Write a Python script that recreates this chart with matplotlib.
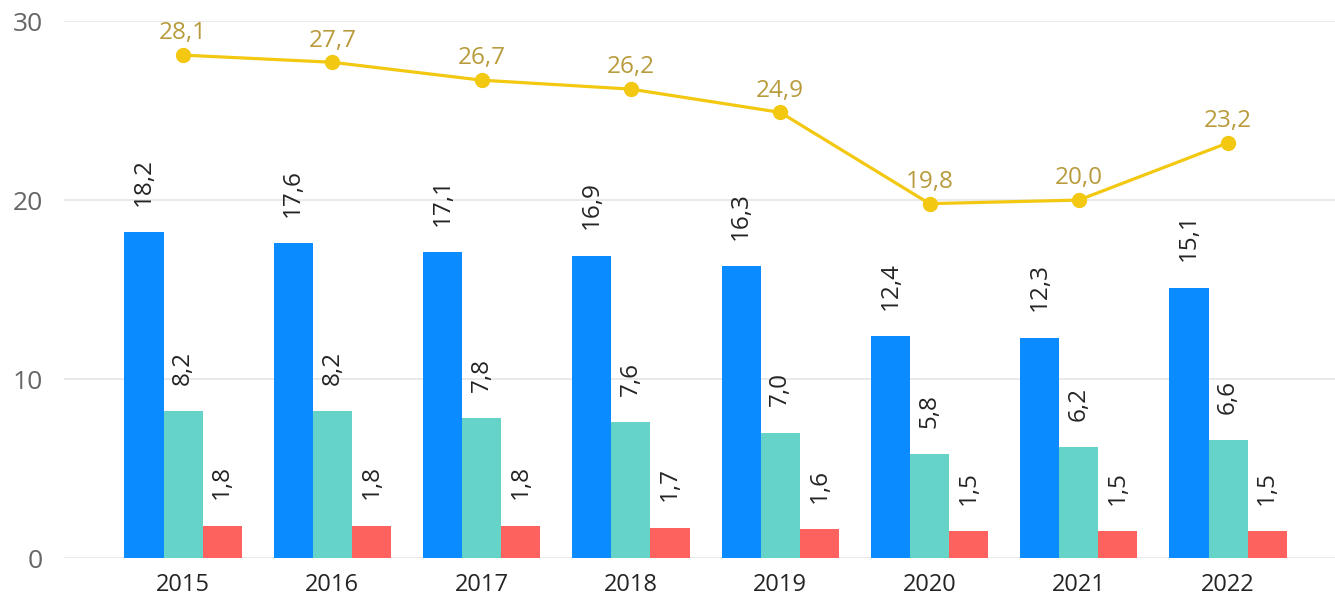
import matplotlib.pyplot as plt
import numpy as np

plt.rcParams['font.family'] = ['Open Sans', 'DejaVu Sans']

years = ["2015", "2016", "2017", "2018", "2019", "2020", "2021", "2022"]
blue_vals = [18.2, 17.6, 17.1, 16.9, 16.3, 12.4, 12.3, 15.1]
teal_vals = [8.2, 8.2, 7.8, 7.6, 7.0, 5.8, 6.2, 6.6]
red_vals = [1.8, 1.8, 1.8, 1.7, 1.6, 1.5, 1.5, 1.5]
line_vals = [28.1, 27.7, 26.7, 26.2, 24.9, 19.8, 20.0, 23.2]


def fmt(v):
    return ("%.1f" % v).replace(".", ",")


fig = plt.figure(figsize=(13.35, 6.03), dpi=100)
ax = fig.add_axes([0.048, 0.0746, 0.952, 0.8904])

x = np.arange(len(years))
w = 0.262
series = [(blue_vals, "#0A8BFF", -w), (teal_vals, "#66D3C8", 0), (red_vals, "#FD625E", w)]
for vals, col, off in series:
    bars = ax.bar(x + off, vals, width=w, color=col, zorder=2)
    for b, v in zip(bars, vals):
        ax.annotate(fmt(v), (b.get_x() + b.get_width() / 2, v),
                    xytext=(0, 19), textcoords="offset points",
                    rotation=90, ha="center", va="bottom",
                    fontsize=17.5, color="#252423")

ax.plot(x, line_vals, color="#F2C811", lw=2.3, marker="o", markersize=10,
        zorder=3, clip_on=False)
for xi, v in zip(x, line_vals):
    ax.annotate(fmt(v), (xi, v), xytext=(0, 7), textcoords="offset points",
                ha="center", va="bottom", fontsize=17.5, color="#B89B3C")

ax.set_ylim(0, 30)
ax.set_xlim(-0.797, 7.716)
ax.set_yticks([0, 10, 20, 30])
ax.set_xticks(x)
ax.set_xticklabels(years)
ax.grid(axis="y", color="#E6E6E6", lw=1.2, zorder=0)
ax.set_axisbelow(True)
for s in ax.spines.values():
    s.set_visible(False)
ax.tick_params(axis="both", length=0, colors="#666666")
ax.tick_params(axis="y", pad=15, labelsize=19)
ax.tick_params(axis="x", pad=11, labelsize=17, labelcolor="#252423")

plt.savefig("out.png", dpi=100)
plt.close()
